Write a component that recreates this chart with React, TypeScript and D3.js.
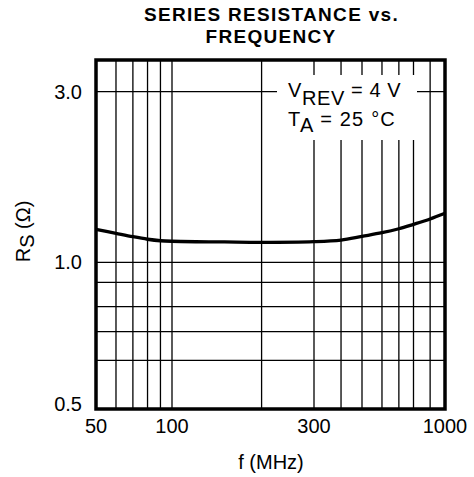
import React from "react";
import * as d3 from "d3";

// curve: series resistance (ohm) against frequency (MHz)
const freqMHz = [50, 60, 70, 80, 90, 100, 150, 200, 300, 400, 500, 600, 700, 800, 900, 1000];
const rsOhm = [1.237, 1.205, 1.179, 1.16, 1.149, 1.145, 1.14, 1.137, 1.142, 1.154, 1.182, 1.21, 1.241, 1.277, 1.322, 1.371];

const xGrid = [60, 70, 80, 90, 100, 200, 300, 400, 500, 600, 700, 800, 900];
const yGrid = [0.6, 0.7, 0.8, 0.9, 1.0, 3.0];
const xTicks = [50, 100, 300, 1000];
const yTicks = [0.5, 1.0, 3.0];
const yTickLabels = ["0.5", "1.0", "3.0"];

const W = 474;
const H = 477;
const font = "'Liberation Sans', Arial, Helvetica, sans-serif";

// the printed grid is not a clean log grid, so the scales are piecewise log
const x = d3
  .scaleLog()
  .domain([50, 100, 300, 500, 800, 1000])
  .range([96, 172, 314, 362, 413.5, 445]);

const y = d3
  .scaleLog()
  .domain([0.5, 0.6, 0.7, 0.8, 0.9, 1.0, 3.0, 3.7])
  .range([409, 360.3, 331.7, 306.7, 282.3, 262.3, 91.7, 60]);

const left = x(50);
const right = x(1000);
const top = y(3.7);
const bottom = y(0.5);

export default function App() {
  const pts = freqMHz.map((f, i) => [f, rsOhm[i]] as [number, number]);
  const line = d3
    .line<[number, number]>()
    .x((d) => x(d[0]))
    .y((d) => y(d[1]))
    .curve(d3.curveCatmullRom.alpha(0.5));

  return (
    <svg
      width={W}
      height={H}
      style={{ position: "absolute", left: 0, top: 0, background: "#fff" }}
      fontFamily={font}
    >
      {/* title */}
      <text x={271.5} y={20.7} textAnchor="middle" fontSize={19} fontWeight="bold" letterSpacing={1.3}>
        SERIES RESISTANCE vs.
      </text>
      <text x={271} y={42.7} textAnchor="middle" fontSize={19} fontWeight="bold" letterSpacing={1.3}>
        FREQUENCY
      </text>

      {/* grid */}
      <g stroke="#000" strokeWidth={1.3}>
        {xGrid.map((f) => (
          <line key={"x" + f} x1={x(f)} x2={x(f)} y1={top} y2={bottom} />
        ))}
        {yGrid.map((v) => (
          <line key={"y" + v} x1={left} x2={right} y1={y(v)} y2={y(v)} />
        ))}
      </g>

      {/* white panel behind the conditions */}
      <rect x={277} y={75} width={140} height={65} fill="#fff" />

      {/* curve */}
      <path d={line(pts) || ""} fill="none" stroke="#000" strokeWidth={3.3} />

      {/* frame */}
      <rect
        x={left}
        y={top}
        width={right - left}
        height={bottom - top}
        fill="none"
        stroke="#000"
        strokeWidth={3.5}
      />

      {/* conditions */}
      <text x={288} y={97} fontSize={20} letterSpacing={0.6}>
        V<tspan dy={8}>REV</tspan>
        <tspan dy={-8}> = 4 V</tspan>
      </text>
      <text x={288} y={126} fontSize={20} letterSpacing={1.2}>
        T<tspan dy={6}>A</tspan>
        <tspan dy={-6}> = 25 °C</tspan>
      </text>

      {/* x tick labels */}
      {xTicks.map((f) => (
        <text key={"xt" + f} x={x(f)} y={433} textAnchor="middle" fontSize={20}>
          {f}
        </text>
      ))}

      {/* y tick labels */}
      {yTicks.map((v, i) => (
        <text
          key={"yt" + v}
          x={82}
          y={Math.min(y(v), bottom - 5)}
          dy="0.35em"
          textAnchor="end"
          fontSize={20}
        >
          {yTickLabels[i]}
        </text>
      ))}

      {/* axis titles */}
      <text x={271} y={469} textAnchor="middle" fontSize={20}>
        f (MHz)
      </text>
      <text transform="translate(30,231.5) rotate(-90)" textAnchor="middle" fontSize={20}>
        R<tspan dy={4}>S</tspan>
        <tspan dy={-4}> (Ω)</tspan>
      </text>
    </svg>
  );
}
